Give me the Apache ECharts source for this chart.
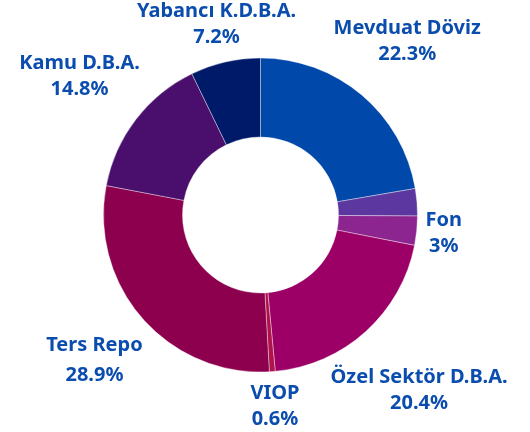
<!DOCTYPE html>
<html>
<head>
<meta charset="utf-8">
<script src="https://cdn.jsdelivr.net/npm/echarts@6/dist/echarts.min.js"></script>
<style>
  html, body { margin: 0; padding: 0; background: #ffffff; }
  #chart { width: 530px; height: 432px; }
</style>
</head>
<body>
<div id="chart"></div>
<script>
// Portfolio breakdown (percent of total), clockwise from 12 o'clock
const categories = ['Mevduat Döviz', 'Diğer', 'Fon', 'Özel Sektör D.B.A.', 'VIOP', 'Ters Repo', 'Kamu D.B.A.', 'Yabancı K.D.B.A.'];
const shares = [22.3, 2.8, 3, 20.4, 0.6, 28.9, 14.8, 7.2];
const sliceColors = ['#0048AA', '#5B379F', '#8C2590', '#9C0066', '#B0124C', '#8C004E', '#4A0E6C', '#001A6A'];
// slices whose name/value label is not shown
const unlabeled = ['Diğer'];

const CENTER = [260.5, 215];
const R_IN = 78, R_OUT = 157;
const LABEL_GAP = 8;

// mid angle of each slice, radians clockwise from the top
const total = shares.reduce((s, v) => s + v, 0);
const midAngles = [];
let acc = 0;
shares.forEach(v => {
  midAngles.push((acc + v / 2) / total * Math.PI * 2);
  acc += v;
});

const data = categories.map((name, i) => {
  const item = { name: name, value: shares[i], itemStyle: { color: sliceColors[i] } };
  if (unlabeled.indexOf(name) >= 0) item.label = { show: false };
  if (name === 'Ters Repo') item.label = { lineHeight: 30 };
  return item;
});

const chart = echarts.init(document.getElementById('chart'), null, { renderer: 'canvas' });
chart.setOption({
  animation: false,
  series: [{
    type: 'pie',
    center: CENTER,
    radius: [R_IN, R_OUT],
    startAngle: 90,
    clockwise: true,
    avoidLabelOverlap: false,
    itemStyle: { borderColor: 'rgba(255,255,255,0.55)', borderWidth: 0.7 },
    label: {
      show: true,
      position: 'outside',
      formatter: '{b}\n{c}%',
      color: '#0B4DAE',
      fontFamily: '"Noto Sans", "Open Sans", sans-serif',
      fontWeight: 'bold',
      fontSize: 20,
      lineHeight: 26,
      align: 'center'
    },
    labelLine: { show: false },
    // place each label box just outside the ring along its slice's bisector
    labelLayout: function (p) {
      const ang = midAngles[p.dataIndex];
      if (ang === undefined || !p.labelRect) return {};
      const vx = Math.sin(ang), vy = -Math.cos(ang);
      const a = p.labelRect.width / 2, b = p.labelRect.height / 2;
      const target = R_OUT + LABEL_GAP;
      let lo = 0, hi = 600, t = 0;
      for (let k = 0; k < 50; k++) {
        t = (lo + hi) / 2;
        const dx = Math.max(0, Math.abs(t * vx) - a);
        const dy = Math.max(0, Math.abs(t * vy) - b);
        if (Math.hypot(dx, dy) < target) lo = t; else hi = t;
      }
      return {
        x: CENTER[0] + t * vx,
        y: CENTER[1] + t * vy,
        align: 'center',
        verticalAlign: 'middle'
      };
    },
    emphasis: { disabled: true },
    data: data
  }]
});
</script>
</body>
</html>
